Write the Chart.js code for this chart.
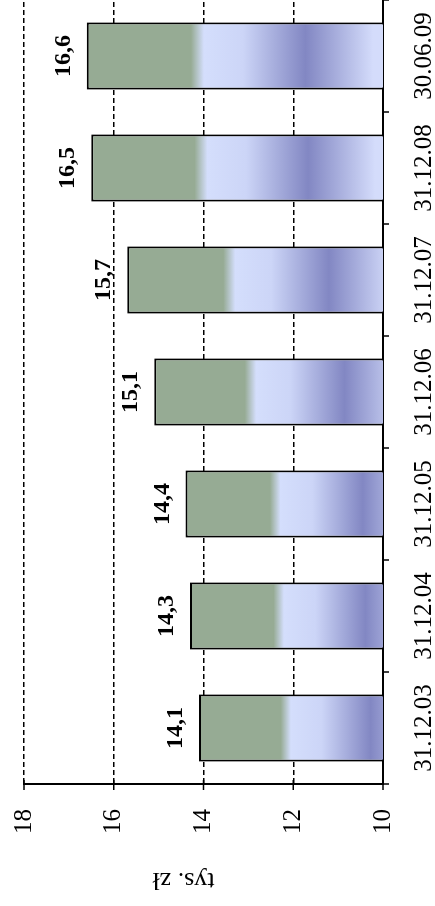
<!DOCTYPE html>
<html>
<head>
<meta charset="utf-8">
<meta name="viewport" content="width=435, initial-scale=1">
<script src="https://cdn.jsdelivr.net/npm/chart.js@4.4.1/dist/chart.umd.min.js"></script>
<style>
  html, body { margin: 0; padding: 0; background: #fff; }
  body { width: 435px; height: 906px; overflow: hidden; position: relative; }
  /* chart is drawn upright, then turned a quarter left like the scan */
  #wrap {
    position: absolute; left: 0; top: 0;
    width: 906px; height: 435px;
    transform-origin: 0 0;
    transform: translateY(906px) rotate(-90deg);
  }
</style>
</head>
<body>
<div id="wrap"><canvas id="myChart" width="906" height="435"></canvas></div>
<script>
// data
const categories = ["31.12.03", "31.12.04", "31.12.05", "31.12.06", "31.12.07", "31.12.08", "30.06.09"];
const values = [14.1, 14.3, 14.4, 15.1, 15.7, 16.5, 16.6];
const yTicks = [10, 12, 14, 16, 18];
const yTitle = "tys. zł";

const GREEN = "#96ab94";

// green top, then light blue / violet bands (gradient runs from bar top down to value 5)
function barFill(context) {
  const chart = context.chart;
  if (!chart.chartArea || context.dataIndex === undefined) return GREEN;
  const y = chart.scales.y;
  const top = y.getPixelForValue(values[context.dataIndex]);
  const end = y.getPixelForValue(5);
  const g = chart.ctx.createLinearGradient(0, top, 0, end);
  g.addColorStop(0, GREEN);
  g.addColorStop(0.2, GREEN);
  g.addColorStop(0.225, "#d4defc");
  g.addColorStop(0.3, "#ccd5f7");
  g.addColorStop(0.42, "#8287c3");
  g.addColorStop(0.55, "#d4dcfb");
  g.addColorStop(1, "#d4dcfb");
  return g;
}

// bold value labels above bars, solid tick marks on both axes, axis title
const extras = {
  id: "extras",
  afterDatasetsDraw(chart) {
    const ctx = chart.ctx;
    const meta = chart.getDatasetMeta(0);
    ctx.save();
    ctx.fillStyle = "#000";
    ctx.font = 'bold 24px "Liberation Serif", "Times New Roman", serif';
    ctx.textAlign = "center";
    ctx.textBaseline = "alphabetic";
    meta.data.forEach((bar, i) => {
      ctx.fillText(values[i].toFixed(1).replace(".", ","), bar.x, bar.y - 17);
    });
    ctx.restore();
  },
  afterDraw(chart) {
    const { ctx, chartArea, scales } = chart;
    const x = scales.x;
    const y = scales.y;
    ctx.save();
    ctx.strokeStyle = "#000";
    ctx.lineWidth = 1.5;
    // value ticks cross the axis
    y.ticks.forEach((t) => {
      const py = y.getPixelForValue(t.value);
      ctx.beginPath();
      ctx.moveTo(chartArea.left - 6, py);
      ctx.lineTo(chartArea.left + 4, py);
      ctx.stroke();
    });
    // category ticks between the bars
    const half = (x.getPixelForValue(1) - x.getPixelForValue(0)) / 2;
    for (let i = 0; i <= categories.length; i++) {
      const px = x.getPixelForValue(i) - half;
      ctx.beginPath();
      ctx.moveTo(px, chartArea.bottom);
      ctx.lineTo(px, chartArea.bottom + 6);
      ctx.stroke();
    }
    ctx.fillStyle = "#000";
    ctx.font = '26px "Liberation Serif", "Times New Roman", serif';
    ctx.textAlign = "center";
    ctx.textBaseline = "middle";
    ctx.translate(26, chartArea.top + (chartArea.bottom - chartArea.top) / 2 - 20);
    ctx.rotate(-Math.PI / 2);
    ctx.fillText(yTitle, 0, 0);
    ctx.restore();
  },
};

Chart.defaults.font.family = '"Liberation Serif", "Times New Roman", serif';
Chart.defaults.color = "#000";

new Chart(document.getElementById("myChart"), {
  type: "bar",
  data: {
    labels: categories,
    datasets: [
      {
        data: values,
        backgroundColor: barFill,
        borderColor: "#000",
        borderWidth: 2,
        borderSkipped: false,
        barPercentage: 0.6,
        categoryPercentage: 1,
      },
    ],
  },
  options: {
    responsive: false,
    animation: false,
    events: [],
    layout: {
      padding: { top: 24, right: 0, bottom: 0, left: 0 },
    },
    scales: {
      x: {
        grid: {
          offset: true,
          drawOnChartArea: false,
          drawTicks: true,
          tickLength: 15,
          tickColor: "rgba(0,0,0,0)",
        },
        border: { color: "#000", width: 2 },
        ticks: {
          font: { size: 25 },
          padding: 11,
          maxRotation: 0,
          autoSkip: false,
        },
        afterFit: (scale) => {
          scale.height = 52;
        },
      },
      y: {
        min: yTicks[0],
        max: yTicks[yTicks.length - 1],
        grid: {
          color: "#000",
          lineWidth: 1.5,
          drawTicks: true,
          tickLength: 16,
          tickColor: "rgba(0,0,0,0)",
        },
        border: { color: "#000", width: 2, dash: [5, 3] },
        ticks: {
          stepSize: yTicks[1] - yTicks[0],
          font: { size: 25 },
          padding: 9,
        },
        afterFit: (scale) => {
          scale.width = 122;
        },
      },
    },
    plugins: {
      legend: { display: false },
      tooltip: { enabled: false },
    },
  },
  plugins: [extras],
});
</script>
</body>
</html>
